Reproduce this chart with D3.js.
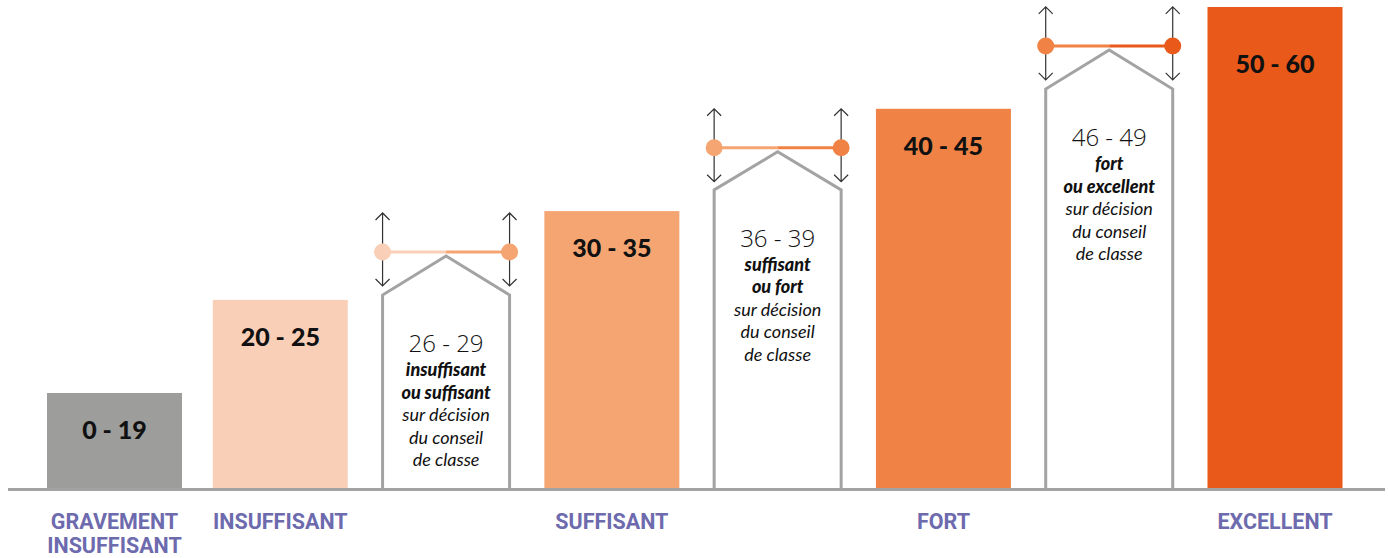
<!DOCTYPE html>
<html>
<head>
<meta charset="utf-8">
<script src="https://cdn.jsdelivr.net/npm/d3@7"></script>
<style>
  body { margin: 0; background: #fff; }
  svg { display: block; }
</style>
</head>
<body>
<svg id="chart" width="1389" height="558"></svg>
<script>

// every column, left to right (used for the x positions)
var columnKeys = ['0 - 19', '20 - 25', '26 - 29', '30 - 35', '36 - 39', '40 - 45', '46 - 49', '50 - 60'];

// the solid bars
var barLabels = ['0 - 19', '20 - 25', '30 - 35', '40 - 45', '50 - 60'];
var barLevels = [20, 39.3, 57.7, 78.9, 100];
var categoryLabels = [['GRAVEMENT', 'INSUFFISANT'], ['INSUFFISANT'], ['SUFFISANT'], ['FORT'], ['EXCELLENT']];

// the "house" shapes between bars
var houseLabels = ['26 - 29', '36 - 39', '46 - 49'];
var houseShoulders = [40.3, 62.1, 83];
var housePeaks = [48.4, 70, 91.1];
var houseVerdicts = [['insuffisant', 'ou suffisant'], ['suffisant', 'ou fort'], ['fort', 'ou excellent']];
var decisionLines = ['sur décision', 'du conseil', 'de classe'];

// styles
var barColors = ['#9d9d9c', '#f9d0b7', '#f4a572', '#ef8244', '#e8591a'];
var greyLine = '#a3a3a3';
var purple = '#6d6aae';

var baseY = 489.5;
var barWidth = 135, houseWidth = 127;

var svg = d3.select('#chart');

var x = d3.scalePoint()
  .domain(columnKeys)
  .range([114.5, 1275]);

var y = d3.scaleLinear()
  .domain([0, 100])
  .range([baseY, 7]);

// bars
var bars = svg.append('g').attr('class', 'bars');

barLabels.forEach(function(label, i) {
  var cx = x(label);
  var top = y(barLevels[i]);

  bars.append('rect')
    .attr('x', cx - barWidth / 2)
    .attr('y', top)
    .attr('width', barWidth)
    .attr('height', baseY - top)
    .attr('fill', barColors[i]);

  // last bar has its label sitting a bit lower
  var dy = (i === barLabels.length - 1) ? 66 : 46;

  bars.append('text')
    .attr('x', cx)
    .attr('y', top + dy)
    .attr('text-anchor', 'middle')
    .attr('font-family', 'Lato, "Open Sans", sans-serif')
    .attr('font-weight', 900)
    .attr('font-size', 25)
    .attr('fill', '#111')
    .text(label);
});

// houses
var houses = svg.append('g').attr('class', 'houses');

houseLabels.forEach(function(label, i) {
  var cx = x(label);
  var left = cx - houseWidth / 2;
  var right = cx + houseWidth / 2;
  var shoulder = y(houseShoulders[i]);
  var peak = y(housePeaks[i]);
  var dotY = peak - 4;

  houses.append('path')
    .attr('d', 'M' + left + ',' + baseY + 'L' + left + ',' + shoulder + 'L' + cx + ',' + peak +
               'L' + right + ',' + shoulder + 'L' + right + ',' + baseY)
    .attr('fill', '#fff')
    .attr('stroke', greyLine)
    .attr('stroke-width', 3);

  // double arrows at each wall
  [left, right].forEach(function(ax) {
    var y1 = dotY - 39, y2 = dotY + 34;
    houses.append('path')
      .attr('d', 'M' + ax + ',' + y1 + 'L' + ax + ',' + y2 +
                 'M' + (ax - 7) + ',' + (y1 + 7) + 'L' + ax + ',' + y1 + 'L' + (ax + 7) + ',' + (y1 + 7) +
                 'M' + (ax - 7) + ',' + (y2 - 7) + 'L' + ax + ',' + y2 + 'L' + (ax + 7) + ',' + (y2 - 7))
      .attr('fill', 'none')
      .attr('stroke', '#333')
      .attr('stroke-width', 1.2);
  });

  // connecting line, half in each neighbour colour
  houses.append('line')
    .attr('x1', left).attr('x2', cx)
    .attr('y1', dotY).attr('y2', dotY)
    .attr('stroke', barColors[i + 1])
    .attr('stroke-width', 3);
  houses.append('line')
    .attr('x1', cx).attr('x2', right)
    .attr('y1', dotY).attr('y2', dotY)
    .attr('stroke', barColors[i + 2])
    .attr('stroke-width', 3);

  houses.append('circle')
    .attr('cx', left).attr('cy', dotY).attr('r', 8.5)
    .attr('fill', barColors[i + 1]);
  houses.append('circle')
    .attr('cx', right).attr('cy', dotY).attr('r', 8.5)
    .attr('fill', barColors[i + 2]);

  // text block
  var ty = shoulder + 57;
  houses.append('text')
    .attr('x', cx).attr('y', ty)
    .attr('text-anchor', 'middle')
    .attr('font-family', '"Open Sans", Lato, sans-serif')
    .attr('font-weight', 300)
    .attr('font-size', 24)
    .attr('fill', '#111')
    .text(label);

  var lines = houseVerdicts[i].map(function(t) { return {t: t, bold: true}; })
    .concat(decisionLines.map(function(t) { return {t: t, bold: false}; }));

  lines.forEach(function(l, j) {
    houses.append('text')
      .attr('x', cx)
      .attr('y', ty + 24 + j * 22.5)
      .attr('text-anchor', 'middle')
      .attr('font-family', 'Lato, "Open Sans", sans-serif')
      .attr('font-style', 'italic')
      .attr('font-weight', l.bold ? 900 : 400)
      .attr('font-size', 18)
      .attr('fill', '#111')
      .text(l.t);
  });
});

// baseline
svg.append('line')
  .attr('x1', 8).attr('x2', 1385)
  .attr('y1', baseY).attr('y2', baseY)
  .attr('stroke', greyLine)
  .attr('stroke-width', 3);

// category names under the bars
var cats = svg.append('g').attr('class', 'categories');

categoryLabels.forEach(function(words, i) {
  var cx = x(barLabels[i]);
  words.forEach(function(w, j) {
    cats.append('text')
      .attr('x', cx)
      .attr('y', 529 + j * 24)
      .attr('text-anchor', 'middle')
      .attr('font-family', '"Liberation Sans Narrow", "Roboto", sans-serif')
      .attr('font-weight', 700)
      .attr('font-size', 21.5)
      .attr('fill', purple)
      .text(w);
  });
});

</script>
</body>
</html>
